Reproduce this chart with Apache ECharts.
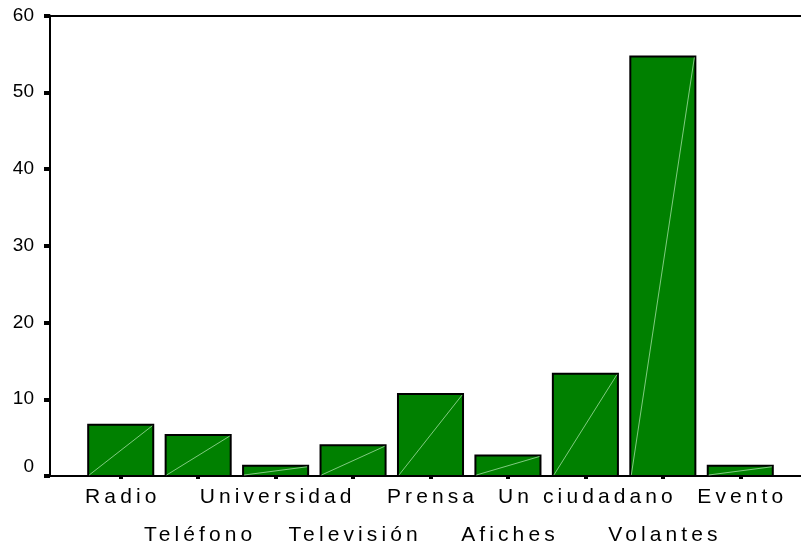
<!DOCTYPE html>
<html><head><meta charset="utf-8">
<script src="https://cdn.jsdelivr.net/npm/echarts@6/dist/echarts.min.js"></script>
<style>html,body{margin:0;padding:0;background:#fff}#c{width:801px;height:548px}</style>
</head><body><div id="c"></div>
<script>
const categories = ['Radio', 'Teléfono', 'Universidad', 'Televisión', 'Prensa', 'Afiches', 'Un ciudadano', 'Volantes', 'Evento'];
const percents = [6.67, 5.33, 1.33, 4.00, 10.67, 2.67, 13.33, 54.67, 1.33];
const yMin = 0, yMax = 60, yStep = 10;

const FONT = 'Liberation Sans, Arial, sans-serif';
const LABEL_SPACING = 4.1;

// widen the category labels (the original output uses spaced-out lettering)
(function () {
  const proto = CanvasRenderingContext2D.prototype;
  const orig = proto.fillText;
  if (!('letterSpacing' in proto)) return;
  proto.fillText = function (text, x, y, maxW) {
    if (categories.indexOf(String(text)) >= 0) {
      const prev = this.letterSpacing;
      this.letterSpacing = LABEL_SPACING + 'px';
      const dx = this.textAlign === 'center' ? LABEL_SPACING / 2 : 0;
      if (maxW === undefined) orig.call(this, text, x + dx, y);
      else orig.call(this, text, x + dx, y, maxW);
      this.letterSpacing = prev;
    } else {
      orig.apply(this, arguments);
    }
  };
})();

const chart = echarts.init(document.getElementById('c'), null, {renderer: 'canvas'});

const hidden = {show: false};
const option = {
  animation: false,
  backgroundColor: '#fff',
  grid: [
    {left: 82, right: 22, top: 15.5, bottom: 72},
    {left: 50, right: 0, top: 15.5, bottom: 72}
  ],
  xAxis: [
    {
      type: 'category', gridIndex: 0, position: 'bottom', data: categories,
      axisLine: {show: true, lineStyle: {color: '#000', width: 2}},
      axisTick: {show: true, interval: 0, alignWithLabel: true, length: 3, lineStyle: {color: '#000', width: 4}},
      axisLabel: {interval: (i) => i % 2 === 0, margin: 11, fontSize: 21, color: '#000', fontFamily: FONT},
      splitLine: hidden
    },
    {
      type: 'category', gridIndex: 0, position: 'bottom', data: categories,
      axisLine: hidden, axisTick: hidden,
      axisLabel: {interval: (i) => i % 2 === 1, margin: 49, fontSize: 21, color: '#000', fontFamily: FONT},
      splitLine: hidden
    },
    {
      type: 'value', gridIndex: 1, position: 'bottom', min: 0, max: 1,
      axisLine: {show: true, onZero: false, lineStyle: {color: '#000', width: 2}},
      axisTick: hidden, axisLabel: hidden, splitLine: hidden
    },
    {
      type: 'value', gridIndex: 1, position: 'top', min: 0, max: 1,
      axisLine: {show: true, onZero: false, lineStyle: {color: '#000', width: 2}},
      axisTick: hidden, axisLabel: hidden, splitLine: hidden
    }
  ],
  yAxis: [
    {type: 'value', gridIndex: 0, show: false, min: yMin, max: yMax, interval: yStep},
    {
      type: 'value', gridIndex: 1, min: yMin, max: yMax, interval: yStep,
      axisLine: {show: true, onZero: false, lineStyle: {color: '#000', width: 2}},
      axisTick: {show: true, length: 6, lineStyle: {color: '#000', width: 4}},
      axisLabel: {margin: 16, fontSize: 19, lineHeight: 18, color: '#000', fontFamily: FONT,
                  formatter: (v) => v === 0 ? '0\n ' : String(v)},
      splitLine: hidden
    }
  ],
  series: [{
    type: 'custom',
    xAxisIndex: 0, yAxisIndex: 0,
    data: percents.map((v, i) => [i, v]),
    renderItem: function (params, api) {
      const top = api.coord([api.value(0), api.value(1)]);
      const base = api.coord([api.value(0), 0]);
      const w = api.size([1, 0])[0] * 0.84;
      const x0 = top[0] - w / 2;
      return {
        type: 'group',
        children: [
          {type: 'rect', shape: {x: x0, y: top[1], width: w, height: base[1] - top[1]},
           style: {fill: '#008000', stroke: '#000', lineWidth: 2}},
          {type: 'line', shape: {x1: x0 + 1, y1: base[1] - 1, x2: x0 + w - 1, y2: top[1] + 1},
           style: {stroke: 'rgba(150,215,150,0.85)', lineWidth: 1}}
        ]
      };
    }
  }]
};
chart.setOption(option);
</script>
</body></html>
